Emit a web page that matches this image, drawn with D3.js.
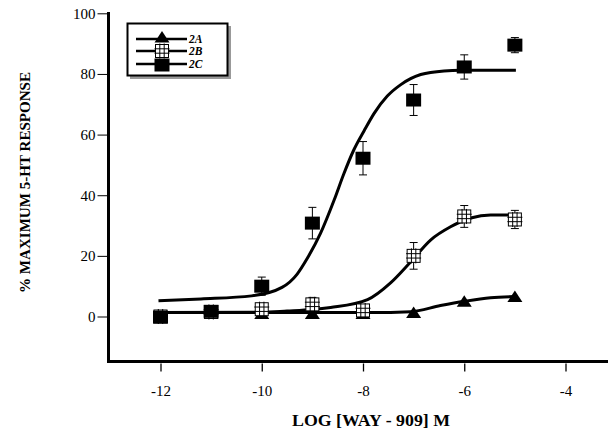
<!DOCTYPE html>
<html>
<head>
<meta charset="utf-8">
<script src="https://cdn.jsdelivr.net/npm/d3@7"></script>
<style>
body{margin:0;background:#fff;}
text{font-family:"Liberation Serif","Times New Roman",serif;fill:#000;}
</style>
</head>
<body>
<script>
// measured points
var logDose = [-12,-11,-10,-9,-8,-7,-6,-5];
var resp2A = [0,1,1,1,1,1.3,5,6.6];
var resp2B = [0,1.5,2.4,4,2,20,33,32];
var err2B  = [0,0,0,2.3,0,4.4,3.6,3];
var resp2C = [-0.2,1.7,10,30.8,52.2,71.4,82.3,89.5];
var err2C  = [0,0,3,5.2,5.5,5.1,4,2.5];
// fitted curves
var fitX2A = [-12.04,-7.85,-7.06,-6.47,-6.0,-5.48,-4.98];
var fitY2A = [1.3,1.3,1.6,3.6,5,6.2,6.6];
var fitX2B = [-12.04,-10,-9.5,-9,-8.64,-7.91,-7.45,-7.06,-6.66,-6.27,-5.87,-5.48,-4.98];
var fitY2B = [1.3,1.4,1.8,2.3,3.0,5.6,11.2,18,25.3,29.6,32.5,33.5,33.5];
var fitX2C = [-12.04,-11.2,-10.2,-9.6,-9.3,-9.1,-8.84,-8.57,-8.38,-8.18,-7.98,-7.78,-7.52,-7.26,-6.86,-6.4,-6.07,-4.98];
var fitY2C = [5.2,5.8,6.8,9.6,14,19.2,27.4,38.4,47,55,61.2,67,72.7,76.4,79.8,81,81.2,81.2];
var xTicks = [-12,-10,-8,-6,-4];
var yTicks = [0,20,40,60,80,100];
var legendNames = ['2A','2B','2C'];

var width = 608, height = 439;
var svg = d3.select('body').append('svg')
	.attr('width',width)
	.attr('height',height);

var x = d3.scaleLinear().domain([-12,-4]).range([160.5,565.5]);
var y = d3.scaleLinear().domain([0,100]).range([316.5,13.3]);
var axisX = 108.5, axisY = 361.5;

// y axis
svg.append('line')
	.attr('x1',axisX).attr('x2',axisX)
	.attr('y1',12).attr('y2',axisY+1.5)
	.style('stroke','#000').style('stroke-width',3);
var yAx = svg.append('g')
	.attr('transform','translate('+(axisX-1)+',0)')
	.call(d3.axisLeft(y).tickValues(yTicks).tickSize(10).tickPadding(2).tickFormat(function(d){return String(d);}));
yAx.select('.domain').remove();
yAx.selectAll('line').style('stroke','#000').style('stroke-width',1);
yAx.selectAll('text').style('font-size','15px').style('font-family','"Liberation Serif",serif').attr('dy','0.32em');

// x axis
svg.append('line')
	.attr('x1',axisX-1.5).attr('x2',width)
	.attr('y1',axisY).attr('y2',axisY)
	.style('stroke','#000').style('stroke-width',3);
var xAx = svg.append('g')
	.attr('transform','translate(0,'+(axisY+2)+')')
	.call(d3.axisBottom(x).tickValues(xTicks).tickSize(8).tickPadding(14).tickFormat(function(d){return String(d);}));
xAx.select('.domain').remove();
xAx.selectAll('line').style('stroke','#000').style('stroke-width',1.3);
xAx.selectAll('text').style('font-size','15px').style('font-family','"Liberation Serif",serif');

// axis titles
svg.append('text')
	.attr('x',371).attr('y',426)
	.attr('text-anchor','middle')
	.attr('textLength',158).attr('lengthAdjust','spacingAndGlyphs')
	.style('font-size','16px').style('font-weight','bold')
	.text('LOG [WAY - 909] M');
svg.append('text')
	.attr('transform','translate(30,182.5) rotate(-90)')
	.attr('text-anchor','middle')
	.attr('textLength',221).attr('lengthAdjust','spacingAndGlyphs')
	.style('font-size','15px').style('font-weight','bold')
	.text('% MAXIMUM 5-HT RESPONSE');

// fitted curves
var line = d3.line()
	.x(function(d){return x(d[0]);})
	.y(function(d){return y(d[1]);})
	.curve(d3.curveMonotoneX);
[[fitX2A,fitY2A],[fitX2B,fitY2B],[fitX2C,fitY2C]].forEach(function(f){
	svg.append('path')
		.attr('d',line(d3.zip(f[0],f[1])))
		.style('fill','none')
		.style('stroke','#000')
		.style('stroke-width',3);
});

// symbols
function triangle(g,cx,cy){
	g.append('path')
		.attr('d','M'+cx+','+(cy-6)+'L'+(cx+7.5)+','+(cy+5.5)+'L'+(cx-7.5)+','+(cy+5.5)+'Z')
		.style('fill','#000');
}
function openSquare(g,cx,cy){
	g.append('rect')
		.attr('x',cx-6.5).attr('y',cy-6.5)
		.attr('width',13).attr('height',13)
		.style('fill','#fff').style('stroke','#000').style('stroke-width',1);
	[-2.2,2.2].forEach(function(o){
		g.append('line').attr('x1',cx+o).attr('x2',cx+o).attr('y1',cy-7.5).attr('y2',cy+7.5)
			.style('stroke','#000').style('stroke-width',1);
		g.append('line').attr('x1',cx-7.5).attr('x2',cx+7.5).attr('y1',cy+o).attr('y2',cy+o)
			.style('stroke','#000').style('stroke-width',1);
	});
}
function filledSquare(g,cx,cy){
	g.append('rect')
		.attr('x',cx-7.5).attr('y',cy-6.5)
		.attr('width',15).attr('height',13)
		.style('fill','#000');
}

function errorBars(vals,errs){
	var g = svg.append('g');
	logDose.forEach(function(d,i){
		if(!errs[i]) return;
		var cx = x(d);
		var y1 = y(vals[i]+errs[i]), y2 = y(vals[i]-errs[i]);
		g.append('line').attr('x1',cx).attr('x2',cx).attr('y1',y1).attr('y2',y2)
			.style('stroke','#000').style('stroke-width',1);
		[y1,y2].forEach(function(yy){
			g.append('line').attr('x1',cx-4).attr('x2',cx+4).attr('y1',yy).attr('y2',yy)
				.style('stroke','#000').style('stroke-width',1);
		});
	});
}

var pts = svg.append('g');
logDose.forEach(function(d,i){ triangle(pts,x(d),y(resp2A[i])); });
errorBars(resp2B,err2B);
var pts2 = svg.append('g');
logDose.forEach(function(d,i){ openSquare(pts2,x(d),y(resp2B[i])); });
errorBars(resp2C,err2C);
var pts3 = svg.append('g');
logDose.forEach(function(d,i){ filledSquare(pts3,x(d),y(resp2C[i])); });

// legend
var leg = svg.append('g');
leg.append('rect').attr('x',130).attr('y',26).attr('width',101).attr('height',53).style('fill','#999');
leg.append('rect').attr('x',127.5).attr('y',23.5).attr('width',100).attr('height',52)
	.style('fill','#fff').style('stroke','#000').style('stroke-width',2);
var legY = [39,51,64];
legendNames.forEach(function(n,i){
	leg.append('line').attr('x1',136).attr('x2',187).attr('y1',legY[i]).attr('y2',legY[i])
		.style('stroke','#000').style('stroke-width',2.5);
	leg.append('text').attr('x',189).attr('y',legY[i]+4)
		.style('font-size','11.5px').style('font-style','italic').style('font-weight','bold')
		.text(n);
});
triangle(leg,162,37);
openSquare(leg,162,51);
filledSquare(leg,162,65);
</script>
</body>
</html>
